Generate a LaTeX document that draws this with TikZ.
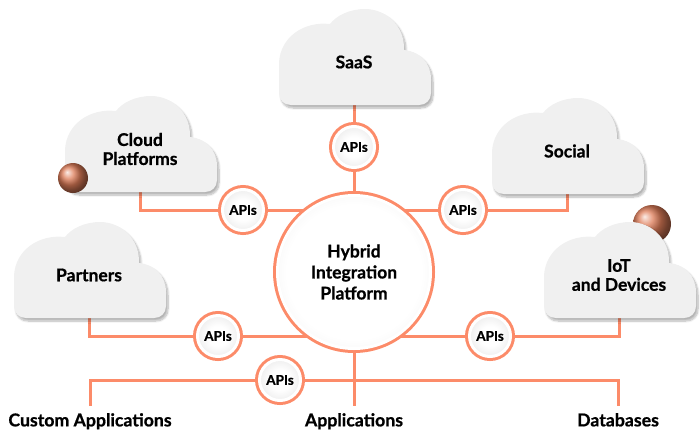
\documentclass[tikz,border=0pt]{standalone}
\usepackage{fontspec}
\setmainfont{Lato}[BoldFeatures={FakeBold=0.8}]
\usetikzlibrary{positioning,shadows.blur,backgrounds}

\definecolor{linkorange}{RGB}{252,139,105}
\definecolor{cloudgray}{RGB}{240,240,240}
\definecolor{copper}{RGB}{222,124,88}

% radial fills for the circles: white middle, grey rim
\pgfdeclareradialshading{hubshade}{\pgfpoint{0bp}{0bp}}{color(0bp)=(white); color(22bp)=(white); color(50bp)=(black!16)}
\pgfdeclareradialshading{apishade}{\pgfpoint{0bp}{0bp}}{color(0bp)=(white); color(12bp)=(white); color(50bp)=(black!18)}

\begin{document}
\begin{tikzpicture}[x=1pt, y=-1pt,
  link/.style={draw=linkorange, line width=3pt},
  apinode/.style={circle, minimum size=41pt, inner sep=0pt, shading=apishade,
    draw=white, line width=3pt, preaction={draw=linkorange, line width=9pt},
    font=\bfseries\fontsize{13.5}{14}\selectfont},
  hubnode/.style={apinode, minimum size=153pt, shading=hubshade, align=center,
    font=\bfseries\fontsize{17.5}{21}\selectfont},
  cloudtext/.style={align=center, font=\bfseries\fontsize{17.5}{19}\selectfont},
  basetext/.style={anchor=north, inner xsep=3pt, inner ysep=7pt, font=\bfseries\fontsize{17.7}{19}\selectfont},
  sphere/.style={circle, inner sep=0pt, ball color=copper},
  pics/cloudbox/.style={code={
    \path[fill=cloudgray, blur shadow={shadow xshift=2pt, shadow yshift=-3pt, shadow blur steps=8, shadow opacity=30}]
      (12,96) -- (140,96) .. controls (147,96) and (152,91) .. (152,84) -- (152,70)
      .. controls (152,54) and (140,42) .. (125,41)
      .. controls (126,18) and (108,0) .. (86,0)
      .. controls (70,0) and (57,7) .. (51,15)
      .. controls (25,12) and (1,28) .. (0,54) -- (0,84)
      .. controls (0,91) and (5,96) .. (12,96) -- cycle;
    \node[cloudtext] (-label) at (75,53) {#1};
    \coordinate (-base) at (75,96);
  }}
]
\useasboundingbox (0,0) rectangle (700,431);

% ball behind the IoT cloud
\node[sphere, minimum size=38pt] (ballr) at (652,224) {};

% clouds
\pic (saas) at (279,9) {cloudbox={SaaS}};
\pic (cloudp) at (65,96) {cloudbox={Cloud\\Platforms}};
\pic (social) at (492,98) {cloudbox={Social}};
\pic (partners) at (14,222) {cloudbox={Partners}};
\pic (iot) at (544,222) {cloudbox={IoT\\and Devices}};

\node[sphere, minimum size=30pt] (balll) at (73,178) {};

% hub and api circles
\node[hubnode] (hub) at (354,272) {Hybrid\\Integration\\Platform};
\node[apinode] (apisaas) at (354,147) {APIs};
\node[apinode] (apicloud) at (243,210) {APIs};
\node[apinode] (apisocial) at (463,210) {APIs};
\node[apinode] (apipart) at (218,336) {APIs};
\node[apinode] (apiiot) at (490,336) {APIs};
\node[apinode] (apibus) at (280,380) {APIs};

% bottom labels
\node[basetext] (custom) at (90,406) {Custom Applications};
\node[basetext] (apps) at (354,406) {Applications};
\node[basetext] (db) at (618,406) {Databases};

\begin{scope}[on background layer]
\draw[link] (saas-base) -- (apisaas) -- (hub);
\draw[link] (cloudp-base) |- (apicloud) -- (apicloud -| hub);
\draw[link] (social-base) |- (apisocial) -- (apisocial -| hub);
\draw[link] (partners-base) |- (apipart) -- (apipart -| hub);
\draw[link] (iot-base) |- (apiiot) -- (apiiot -| hub);
\draw[link] (hub) -- (apps.north);
\draw[link] (custom.north) |- (apibus) -| (db.north);
\end{scope}

\end{tikzpicture}
\end{document}
